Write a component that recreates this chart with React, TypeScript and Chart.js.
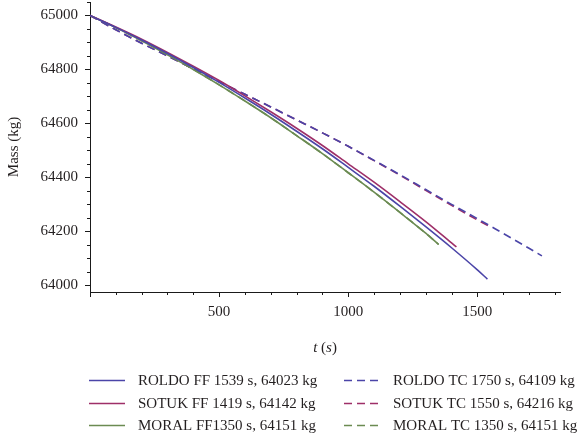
import { useEffect, useRef } from "react";
import { Chart, registerables } from "chart.js";

Chart.register(...registerables);

const FONT = '"Liberation Serif", "Times New Roman", serif';
const TEXT = "#231f20";
const AXIS = "#1a1a1a";

// Burn time (s) and remaining mass (kg) for each case
const timesRoldoFF = [0, 100, 200, 300, 400, 500, 600, 700, 800, 900, 1000, 1100, 1200, 1300, 1400, 1500, 1539];
const massRoldoFF = [65000, 64956, 64909, 64859, 64807, 64752, 64694, 64634, 64571, 64506, 64437, 64367, 64293, 64217, 64139, 64057, 64023];

const timesSotukFF = [0, 100, 200, 300, 400, 500, 600, 700, 800, 900, 1000, 1100, 1200, 1300, 1400, 1419];
const massSotukFF = [65000, 64957, 64912, 64863, 64812, 64759, 64702, 64643, 64582, 64518, 64450, 64382, 64310, 64236, 64157, 64142];

const timesMoralFF = [0, 100, 200, 300, 400, 500, 600, 700, 800, 900, 1000, 1100, 1200, 1300, 1350];
const massMoralFF = [65000, 64955, 64906, 64854, 64800, 64743, 64683, 64621, 64555, 64488, 64417, 64345, 64270, 64193, 64151];

const timesRoldoTC = [0, 100, 200, 300, 400, 500, 600, 700, 800, 900, 1000, 1100, 1200, 1300, 1400, 1500, 1600, 1700, 1750];
const massRoldoTC = [65000, 64947, 64897, 64850, 64802, 64755, 64708, 64661, 64613, 64565, 64515, 64463, 64410, 64355, 64300, 64247, 64192, 64137, 64109];

const timesSotukTC = [0, 100, 200, 300, 400, 500, 600, 700, 800, 900, 1000, 1100, 1200, 1300, 1400, 1500, 1550];
const massSotukTC = [65000, 64947, 64897, 64850, 64802, 64755, 64708, 64661, 64613, 64565, 64515, 64462, 64408, 64352, 64296, 64242, 64216];

const timesMoralTC = [0, 100, 200, 300, 400, 500, 600, 700, 800, 900, 1000, 1100, 1200, 1300, 1350];
const massMoralTC = [65000, 64955, 64906, 64854, 64800, 64743, 64683, 64621, 64555, 64488, 64417, 64345, 64270, 64193, 64151];

const seriesLabels = [
  "ROLDO FF 1539 s, 64023 kg",
  "SOTUK FF 1419 s, 64142 kg",
  "MORAL FF1350 s, 64151 kg",
  "ROLDO TC 1750 s, 64109 kg",
  "SOTUK TC 1550 s, 64216 kg",
  "MORAL TC 1350 s, 64151 kg",
];

// Axis tick positions (labelled ones every 200 kg / 500 s)
const yTicks = [64000, 64050, 64100, 64150, 64200, 64250, 64300, 64350, 64400, 64450, 64500, 64550, 64600, 64650, 64700, 64750, 64800, 64850, 64900, 64950, 65000, 65050];
const yLabelled = [64000, 64200, 64400, 64600, 64800, 65000];
const xTicks = [0, 100, 200, 300, 400, 500, 600, 700, 800, 900, 1000, 1100, 1200, 1300, 1400, 1500, 1600, 1700, 1800];
const xLabelled = [500, 1000, 1500];

const BLUE = "#4b45a8";
const MAROON = "#9e2f68";
const GREEN = "#6b8b52";
const DASH = [8, 5];

const toPoints = (ts: number[], ms: number[]) => ts.map((t, i) => ({ x: t, y: ms[i] }));

// Outward tick marks: longer for labelled values, short for the rest
const tickMarks = {
  id: "tickMarks",
  afterDraw(chart: any) {
    const { ctx, scales } = chart;
    const xs = scales.x;
    const ys = scales.y;
    ctx.save();
    ctx.strokeStyle = AXIS;
    ctx.lineWidth = 1;
    ctx.beginPath();
    ys.ticks.forEach((tk: any) => {
      const v = tk.value;
      const y = Math.round(ys.getPixelForValue(v)) + 0.5;
      const len = yLabelled.includes(v) ? 5 : 3;
      ctx.moveTo(ys.right - len, y);
      ctx.lineTo(ys.right, y);
    });
    xs.ticks.forEach((tk: any) => {
      const v = tk.value;
      const x = Math.round(xs.getPixelForValue(v)) + 0.5;
      const len = v === 0 || xLabelled.includes(v) ? 5 : 3;
      ctx.moveTo(x, xs.top);
      ctx.lineTo(x, xs.top + len);
    });
    ctx.stroke();
    ctx.restore();
  },
};

// x-axis title with italic symbols
const xTitle = {
  id: "xTitle",
  afterDraw(chart: any) {
    const { ctx, chartArea } = chart;
    const parts: [string, boolean][] = [
      ["t", true],
      [" (", false],
      ["s", true],
      [")", false],
    ];
    ctx.save();
    ctx.fillStyle = TEXT;
    ctx.textBaseline = "middle";
    ctx.textAlign = "left";
    const widths = parts.map(([s, it]) => {
      ctx.font = `${it ? "italic " : ""}15px ${FONT}`;
      return ctx.measureText(s).width;
    });
    const total = widths.reduce((a, b) => a + b, 0);
    let x = (chartArea.left + chartArea.right) / 2 - total / 2;
    const y = 348;
    parts.forEach(([s, it], i) => {
      ctx.font = `${it ? "italic " : ""}15px ${FONT}`;
      ctx.fillText(s, x, y);
      x += widths[i];
    });
    ctx.restore();
  },
};

// Two-column legend below the axes
const gridLegend = {
  id: "gridLegend",
  afterDraw(chart: any) {
    const { ctx } = chart;
    const datasets = chart.data.datasets;
    const cols = [
      { lineX: 89, lineW: 36, textX: 138 },
      { lineX: 344, lineW: 37, textX: 393 },
    ];
    const rows = [380, 402.7, 425.3];
    ctx.save();
    ctx.font = `15px ${FONT}`;
    ctx.textBaseline = "middle";
    ctx.textAlign = "left";
    datasets.forEach((d: any, i: number) => {
      const c = cols[i < 3 ? 0 : 1];
      const y = rows[i % 3];
      ctx.strokeStyle = d.borderColor;
      ctx.lineWidth = 1.5;
      ctx.setLineDash(d.borderDash || []);
      ctx.beginPath();
      ctx.moveTo(c.lineX, Math.round(y) + 0.5);
      ctx.lineTo(c.lineX + c.lineW, Math.round(y) + 0.5);
      ctx.stroke();
      ctx.setLineDash([]);
      ctx.fillStyle = TEXT;
      ctx.fillText(d.label, c.textX, y + 1);
    });
    ctx.restore();
  },
};

export default function App() {
  const canvasRef = useRef<HTMLCanvasElement | null>(null);

  useEffect(() => {
    if (!canvasRef.current) return;
    const line = (label: string, pts: any[], color: string, dashed: boolean) => ({
      label,
      data: pts,
      borderColor: color,
      backgroundColor: color,
      borderWidth: 1.6,
      borderDash: dashed ? DASH : [],
      pointRadius: 0,
      fill: false,
      cubicInterpolationMode: "monotone" as const,
    });
    const chart = new Chart(canvasRef.current, {
      type: "line",
      data: {
        datasets: [
          line(seriesLabels[0], toPoints(timesRoldoFF, massRoldoFF), BLUE, false),
          line(seriesLabels[1], toPoints(timesSotukFF, massSotukFF), MAROON, false),
          line(seriesLabels[2], toPoints(timesMoralFF, massMoralFF), GREEN, false),
          line(seriesLabels[3], toPoints(timesRoldoTC, massRoldoTC), BLUE, true),
          line(seriesLabels[4], toPoints(timesSotukTC, massSotukTC), MAROON, true),
          line(seriesLabels[5], toPoints(timesMoralTC, massMoralTC), GREEN, true),
        ],
      },
      options: {
        animation: false,
        responsive: true,
        maintainAspectRatio: false,
        layout: { padding: { left: 0, right: 21, top: 2, bottom: 0 } },
        plugins: {
          legend: { display: false },
          tooltip: { enabled: false },
        },
        scales: {
          x: {
            type: "linear",
            min: 0,
            max: 1820,
            grid: { drawOnChartArea: false, drawTicks: false },
            border: { display: true, color: AXIS, width: 1 },
            afterBuildTicks: (s: any) => {
              s.ticks = xTicks.map((v) => ({ value: v }));
            },
            ticks: {
              autoSkip: false,
              maxRotation: 0,
              padding: 11,
              color: TEXT,
              font: { family: FONT, size: 15 },
              callback: (v: any) => (xLabelled.includes(v) ? String(v) : ""),
            },
            afterFit: (s: any) => {
              s.height = 155;
              s.paddingLeft = 0;
              s.paddingRight = 0;
            },
          },
          y: {
            type: "linear",
            min: 63975,
            max: 65050,
            grid: { drawOnChartArea: false, drawTicks: false },
            border: { display: true, color: AXIS, width: 1 },
            afterBuildTicks: (s: any) => {
              s.ticks = yTicks.map((v) => ({ value: v }));
            },
            ticks: {
              autoSkip: false,
              padding: 12,
              color: TEXT,
              font: { family: FONT, size: 15 },
              callback: (v: any) => (yLabelled.includes(v) ? String(v) : ""),
            },
            title: {
              display: true,
              text: "Mass (kg)",
              color: TEXT,
              font: { family: FONT, size: 15 },
              padding: { top: 5, bottom: 0 },
            },
            afterFit: (s: any) => {
              s.width = 90;
              s.paddingTop = 0;
              s.paddingBottom = 0;
            },
          },
        },
      },
      plugins: [tickMarks, xTitle, gridLegend],
    });
    return () => chart.destroy();
  }, []);

  return (
    <div style={{ position: "absolute", left: 0, top: 0, width: 581, height: 447, background: "#fff" }}>
      <canvas ref={canvasRef} />
    </div>
  );
}
